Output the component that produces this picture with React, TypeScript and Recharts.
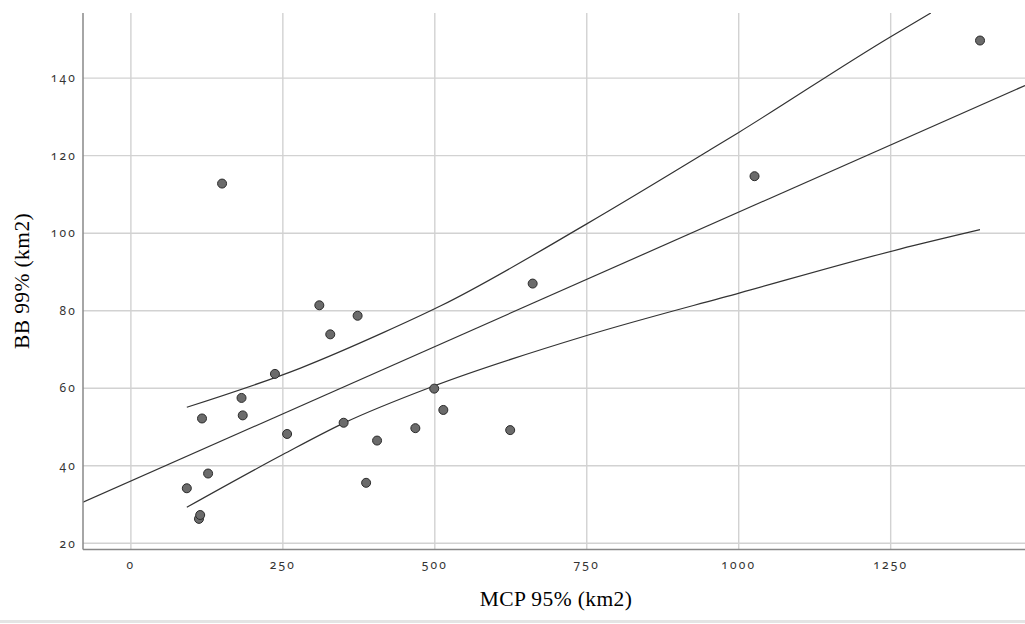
import { ComposedChart, Scatter, Line, XAxis, YAxis, CartesianGrid } from 'recharts'

// observations: MCP 95% (km2) vs BB 99% (km2)
const mcpValues = [92, 112, 114, 117, 127, 150, 182, 184, 237, 257, 310, 328, 350, 373, 387, 405, 468, 499, 514, 624, 661, 1026, 1397]
const bbValues = [34.2, 26.3, 27.3, 52.2, 38.0, 112.8, 57.5, 53.0, 63.7, 48.2, 81.4, 73.9, 51.1, 78.7, 35.6, 46.5, 49.7, 59.9, 54.4, 49.2, 87.0, 114.7, 149.7]

// fitted line, read at the plot edges
const fitX = [-78.8, 1471]
const fitY = [30.6, 138.1]

// confidence band of the mean
const upperX = [92, 279, 416, 509, 750, 953, 1000, 1250, 1316]
const upperY = [55.1, 65.2, 74.4, 81.2, 102.4, 121.5, 126.0, 150.7, 156.8]
const lowerX = [92, 250, 350, 499, 750, 1002, 1265, 1397]
const lowerY = [29.3, 42.9, 51.0, 60.6, 73.6, 84.6, 95.9, 100.9]

const xTicks = [0, 250, 500, 750, 1000, 1250]
const yTicks = [20, 40, 60, 80, 100, 120, 140]

const toPoints = (xs: number[], ys: number[]) => xs.map((x, i) => ({ x, y: ys[i] }))

const points = toPoints(mcpValues, bbValues)
const fit = toPoints(fitX, fitY)
const upper = toPoints(upperX, upperY)
const lower = toPoints(lowerX, lowerY)

const tickStyle = {
  fontFamily: '"Noto Sans"',
  fontSize: 12,
  fill: '#333',
  letterSpacing: 2.2,
  style: { fontVariantNumeric: 'oldstyle-nums', fontFeatureSettings: '"onum" 1' },
}

const titleStyle: React.CSSProperties = {
  position: 'absolute',
  fontFamily: '"Liberation Serif", serif',
  fontSize: 21.5,
  color: '#000',
  whiteSpace: 'nowrap',
  letterSpacing: 0.4,
  fontFeatureSettings: '"onum" 1',
}

export default function App() {
  return (
    <div style={{ position: 'absolute', left: 0, top: 0, width: 1025, height: 624, background: '#fff', overflow: 'hidden' }}>
      <ComposedChart
        width={1025}
        height={624}
        margin={{ top: 13, right: 0, left: 0, bottom: 0 }}
      >
        <CartesianGrid stroke="#d2d2d2" strokeWidth={1.4} horizontalValues={yTicks} verticalValues={xTicks} />
        <XAxis
          type="number"
          dataKey="x"
          domain={[-78.8, 1471]}
          ticks={xTicks}
          allowDataOverflow
          height={74.5}
          tickLine={false}
          tickMargin={5}
          stroke="#888"
          strokeWidth={1.5}
          tick={tickStyle}
        />
        <YAxis
          type="number"
          dataKey="y"
          domain={[18.4, 156.8]}
          ticks={yTicks}
          allowDataOverflow
          width={83}
          tickLine={false}
          tickMargin={0}
          stroke="#888"
          strokeWidth={1.5}
          tick={tickStyle}
        />
        <Line data={fit} dataKey="y" type="linear" stroke="#333" strokeWidth={1.2} dot={false} isAnimationActive={false} />
        <Line data={upper} dataKey="y" type="monotone" stroke="#333" strokeWidth={1.2} dot={false} isAnimationActive={false} />
        <Line data={lower} dataKey="y" type="monotone" stroke="#333" strokeWidth={1.2} dot={false} isAnimationActive={false} />
        <Scatter
          data={points}
          dataKey="y"
          fill="#6b6b6b"
          stroke="#2b2b2b"
          strokeWidth={1}
          shape={(p: any) => <circle cx={p.cx} cy={p.cy} r={4.5} fill="#6b6b6b" stroke="#2b2b2b" strokeWidth={1} />}
          isAnimationActive={false}
        />
      </ComposedChart>
      <div style={{ ...titleStyle, left: 556, top: 599, transform: 'translate(-50%, -50%)' }}>MCP 95% (km2)</div>
      <div style={{ ...titleStyle, left: 22, top: 281, transform: 'translate(-50%, -50%) rotate(-90deg)' }}>BB 99% (km2)</div>
      <div style={{ position: 'absolute', left: 0, top: 620, width: 1025, height: 3, background: '#e4e4e4' }} />
    </div>
  )
}
